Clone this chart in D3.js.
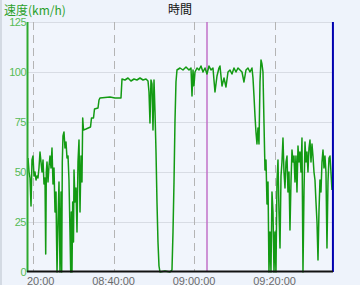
<!DOCTYPE html>
<html>
<head>
<meta charset="utf-8">
<script src="https://cdn.jsdelivr.net/npm/d3@7"></script>
<style>
  body { margin: 0; background: #eef3fb; }
  svg { display: block; }
</style>
</head>
<body>
<div id="chart"></div>
<script>
// time of each sample, in minutes after 08:00
var minutes = [
    18.75, 19.00, 19.25, 19.50, 19.74, 19.99, 20.24, 20.49, 20.74, 20.99,
    21.23, 21.48, 21.73, 21.98, 22.23, 22.48, 22.72, 22.97, 23.15, 23.30,
    23.47, 23.72, 23.97, 24.21, 24.46, 24.71, 24.96, 25.21, 25.46, 25.71,
    25.83, 25.96, 26.20, 26.45, 26.70, 26.95, 27.12, 27.27, 27.44, 27.69,
    27.94, 28.19, 28.44, 28.69, 28.93, 29.18, 29.36, 29.51, 29.68, 29.85,
    30.05, 30.18, 30.42, 30.67, 30.92, 31.17, 31.42, 31.67, 31.92, 32.16,
    32.34, 32.53, 33.16, 34.28, 34.52, 35.02, 35.27, 36.14, 36.39, 36.63,
    39.12, 40.36, 41.85, 42.10, 42.84, 43.59, 44.33, 45.08, 45.82, 46.57,
    47.32, 48.06, 48.56, 48.81, 49.05, 49.30, 49.55, 49.80, 50.05, 50.30,
    50.55, 50.79, 51.04, 51.29, 51.54, 52.78, 54.02, 54.52, 54.77, 55.02,
    55.26, 55.51, 55.76, 56.51, 57.25, 58.00, 58.74, 59.24, 59.49, 59.74,
    59.98, 60.23, 60.73, 61.23, 61.72, 62.22, 62.72, 63.21, 63.71, 64.21,
    64.70, 65.20, 65.70, 66.19, 66.44, 66.94, 67.44, 67.93, 68.43, 68.93,
    69.42, 69.92, 70.42, 70.91, 71.41, 71.91, 72.40, 72.90, 73.40, 73.89,
    74.39, 74.64, 74.89, 75.14, 75.38, 75.63, 75.88, 76.13, 76.38, 76.63,
    76.87, 77.12, 77.37, 77.62, 77.87, 78.12, 78.37, 78.61, 78.86, 79.11,
    79.36, 79.61, 79.86, 80.10, 80.35, 80.60, 80.85, 81.10, 81.35, 81.60,
    81.84, 82.09, 82.34, 82.59, 82.84, 83.09, 83.33, 83.58, 83.83, 84.08,
    84.33, 84.58, 84.82, 85.07, 85.32, 85.57, 85.82, 86.07, 86.31, 86.56,
    86.81, 87.06, 87.31, 87.56, 87.81, 88.05, 88.30, 88.55, 88.80, 89.05,
    89.30, 89.54, 89.79, 90.04, 90.29, 90.54, 90.79, 91.03, 91.28, 91.53,
    91.78, 92.03, 92.28, 92.52, 92.77, 93.02, 93.27, 93.52, 93.77, 94.01,
    94.26
];

// speed (km/h) for each sample
var speeds = [
    57, 50, 47, 33, 56, 58, 48, 50, 46, 48,
    47, 52, 60, 55, 50, 56, 44, 47, 9, 50,
    55, 45, 53, 58, 52, 62, 44, 52, 30, 40,
    18, 0, 25, 45, 0, 40, 0, 55, 68, 70,
    62, 65, 57, 58, 46, 20, 0, 30, 0, 35,
    15, 51, 35, 42, 20, 55, 66, 30, 58, 45,
    77, 71, 71.5, 72.5, 77, 77, 81.5, 82, 86, 87,
    87.5, 87, 87, 96.5, 96, 97, 95.5, 96.5, 96, 97,
    96, 96.5, 95.5, 90, 74.5, 96, 94, 71, 96, 80,
    60, 35, 15, 3, 0, 0.5, 0, 1, 20, 45,
    75, 95, 101, 102, 101, 102.5, 101, 102, 88, 101,
    93, 100, 102, 101, 103, 100, 102, 99, 103, 101,
    102, 90, 98, 102, 103, 93, 97, 92.5, 100, 101,
    99, 102, 100, 102, 101, 100, 95, 101, 102, 100,
    102, 97, 88, 78, 70, 64, 72, 64, 95, 106,
    104, 100, 75, 51, 56, 34, 45, 0, 20, 0,
    40, 30, 0, 20, 0, 45, 56, 30, 12, 48,
    55, 67, 50, 42, 55, 58, 40, 50, 21, 45,
    61, 55, 58, 45, 58, 40, 63, 55, 60, 50,
    67, 0, 40, 65, 55, 60, 50, 62, 66, 55,
    64, 58, 50, 46, 35, 25, 6, 30, 46, 40,
    55, 61, 52, 58, 50, 12, 45, 57, 58, 50,
    41
];

var yTicks = [0, 25, 50, 75, 100, 125];
var xTicks = ["08:20", "08:40", "09:00", "09:20"];
var timeRange = ["08:18:45", "09:34:31"];
var cursorTime = "09:03:13";
var endTime = "09:34:15";

var width = 360, height = 285;
var margin = {top: 22, right: 27, bottom: 13, left: 28};

var parseClock = d3.timeParse("%H:%M:%S");
function clock(s) {
    return s.length == 5 ? parseClock(s + ":00") : parseClock(s);
}
function fromMinutes(m) {
    var d = parseClock("08:00:00");
    return new Date(d.getTime() + m * 60000);
}

var data = minutes.map(function(m, i) {
    return {t: fromMinutes(m), v: speeds[i]};
});

var svg = d3.select("#chart").append("svg")
    .attr("width", width)
    .attr("height", height);

var x = d3.scaleTime()
    .domain(timeRange.map(clock))
    .range([margin.left, width - margin.right]);

var y = d3.scaleLinear()
    .domain([0, 125])
    .range([height - margin.bottom, margin.top]);

// window edge
svg.append("line")
    .attr("x1", 1).attr("x2", 1)
    .attr("y1", 0).attr("y2", height)
    .attr("stroke", "#b9c1cb");

// plot background
svg.append("rect")
    .attr("x", margin.left)
    .attr("y", margin.top)
    .attr("width", x.range()[1] - margin.left)
    .attr("height", y(0) - margin.top)
    .attr("fill", "#f1f5fc");

// horizontal grid
svg.append("g").selectAll("line")
    .data(yTicks.filter(function(d) { return d > 0; }))
    .enter().append("line")
    .attr("x1", margin.left)
    .attr("x2", x.range()[1])
    .attr("y1", function(d) { return y(d) + 0.5; })
    .attr("y2", function(d) { return y(d) + 0.5; })
    .attr("stroke", "#d8dce4");

// vertical dashed grid
svg.append("g").selectAll("line")
    .data(xTicks)
    .enter().append("line")
    .attr("x1", function(d) { return Math.round(x(clock(d))) + 0.5; })
    .attr("x2", function(d) { return Math.round(x(clock(d))) + 0.5; })
    .attr("y1", y(125))
    .attr("y2", y(0))
    .attr("stroke", "#b4b4b4")
    .attr("stroke-dasharray", "8,5");

// cursor marker
svg.append("line")
    .attr("x1", x(clock(cursorTime)))
    .attr("x2", x(clock(cursorTime)))
    .attr("y1", y(125))
    .attr("y2", y(0))
    .attr("stroke", "#c070c8")
    .attr("stroke-width", 1.5);

// speed line
var line = d3.line()
    .x(function(d) { return x(d.t); })
    .y(function(d) { return y(d.v); });

svg.append("path")
    .datum(data)
    .attr("d", line)
    .attr("fill", "none")
    .attr("stroke", "#139a13")
    .attr("stroke-width", 1.5)
    .attr("stroke-linejoin", "round");

// end marker
svg.append("line")
    .attr("x1", x(clock(endTime)) + 1)
    .attr("x2", x(clock(endTime)) + 1)
    .attr("y1", y(125))
    .attr("y2", y(0))
    .attr("stroke", "#0000b0")
    .attr("stroke-width", 2);

// axes lines
svg.append("line")
    .attr("x1", margin.left - 0.5).attr("x2", margin.left - 0.5)
    .attr("y1", y(125)).attr("y2", y(0))
    .attr("stroke", "#2eaa2e")
    .attr("stroke-width", 2);

svg.append("line")
    .attr("x1", margin.left - 1).attr("x2", x.range()[1])
    .attr("y1", y(0) - 0.5).attr("y2", y(0) - 0.5)
    .attr("stroke", "#111")
    .attr("stroke-width", 2);

// y labels
svg.append("g").selectAll("text")
    .data(yTicks)
    .enter().append("text")
    .attr("x", margin.left - 2)
    .attr("y", function(d) { return y(d) + 4; })
    .attr("text-anchor", "end")
    .attr("fill", "#55bb55")
    .style("font", "11px 'Liberation Sans', sans-serif")
    .style("letter-spacing", "-0.5px")
    .text(function(d) { return d; });

// x labels, clipped at the y axis
svg.append("clipPath").attr("id", "xclip")
    .append("rect")
    .attr("x", margin.left - 1).attr("y", y(0))
    .attr("width", width).attr("height", margin.bottom);

svg.append("g").attr("clip-path", "url(#xclip)")
    .selectAll("text")
    .data(xTicks)
    .enter().append("text")
    .attr("x", function(d) { return x(clock(d)); })
    .attr("y", height)
    .attr("text-anchor", "middle")
    .attr("fill", "#6a6a6a")
    .style("font", "11px 'Liberation Sans', sans-serif")
    .text(function(d) { return d3.timeFormat("%H:%M:%S")(clock(d)); });

// titles
svg.append("text")
    .attr("x", 4).attr("y", 15)
    .attr("fill", "#2aa02a")
    .style("font", "12px 'Noto Sans CJK JP', sans-serif")
    .text("速度(km/h)");

svg.append("text")
    .attr("x", 180).attr("y", 14)
    .attr("text-anchor", "middle")
    .attr("fill", "#111")
    .style("font", "12px 'Noto Sans CJK JP', sans-serif")
    .text("時間");
</script>
</body>
</html>
